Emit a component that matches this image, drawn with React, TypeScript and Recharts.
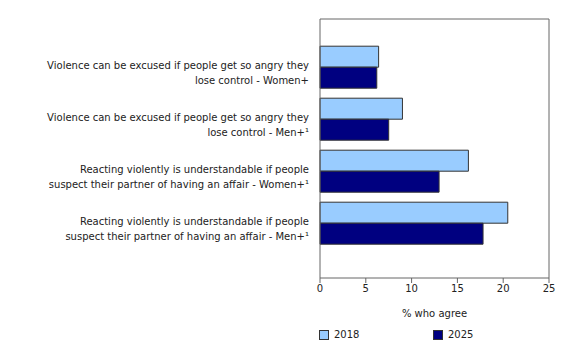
import { BarChart, Bar, XAxis, YAxis, Legend } from 'recharts';

const categories = [
  'Violence can be excused if people get so angry they\nlose control - Women+',
  'Violence can be excused if people get so angry they\nlose control - Men+¹',
  'Reacting violently is understandable if people\nsuspect their partner of having an affair - Women+¹',
  'Reacting violently is understandable if people\nsuspect their partner of having an affair - Men+¹',
];
const values2018 = [6.4, 9.0, 16.2, 20.5];
const values2025 = [6.2, 7.5, 13.0, 17.8];
const xTicks = [0, 5, 10, 15, 20, 25];

const data = categories.map((name, i) => ({
  name,
  y2018: values2018[i],
  y2025: values2025[i],
}));

const FONT = '"DejaVu Sans", Verdana, sans-serif';
const FRAME = '#666';

function CategoryTick({ x, y, payload }: any) {
  const lines = String(payload.value).split('\n');
  return (
    <text x={x - 3} y={y} textAnchor="end" fontSize={10} fontFamily={FONT} fill="#222">
      {lines.map((line, i) => (
        <tspan key={i} x={x - 3} y={y + 2 + i * 15}>
          {line}
        </tspan>
      ))}
    </text>
  );
}

function LegendContent() {
  const items = [
    { label: '2018', color: '#99CCFF' },
    { label: '2025', color: '#000080' },
  ];
  return (
    <div style={{ display: 'flex', fontFamily: FONT, fontSize: 10, color: '#222' }}>
      {items.map((it) => (
        <div key={it.label} style={{ display: 'flex', alignItems: 'center', width: 114 }}>
          <span
            style={{
              display: 'inline-block',
              width: 8,
              height: 8,
              background: it.color,
              border: '1px solid #333',
              marginRight: 5,
            }}
          />
          {it.label}
        </div>
      ))}
    </div>
  );
}

export default function App() {
  return (
    <div style={{ position: 'absolute', left: 0, top: 0, background: '#fff' }}>
      <BarChart
        width={580}
        height={345}
        data={data}
        layout="vertical"
        margin={{ top: 18, right: 30, bottom: 9, left: 0 }}
        barCategoryGap="10%"
        barGap={0}
      >
        <XAxis
          type="number"
          domain={[0, 25]}
          ticks={xTicks}
          height={40}
          stroke={FRAME}
          tick={{ fill: '#222', fontSize: 10, fontFamily: FONT }}
          tickSize={5}
          label={{
            value: '% who agree',
            position: 'insideBottom',
            offset: 1,
            fill: '#222',
            fontSize: 10,
            fontFamily: FONT,
          }}
        />
        <XAxis xAxisId="top" type="number" domain={[0, 25]} orientation="top" height={1} tick={false} tickLine={false} stroke={FRAME} />
        <YAxis
          type="category"
          dataKey="name"
          width={320}
          stroke={FRAME}
          tickLine={false}
          tick={<CategoryTick />}
          padding={{ top: 22, bottom: 29 }}
          interval={0}
        />
        <YAxis yAxisId="right" type="category" dataKey="name" orientation="right" width={1} tick={false} tickLine={false} stroke={FRAME} />
        <Legend
          verticalAlign="bottom"
          content={<LegendContent />}
          wrapperStyle={{ position: 'absolute', top: 329, left: 319, bottom: 'auto', width: 'auto', height: 18 }}
        />
        <Bar dataKey="y2018" name="2018" fill="#99CCFF" stroke="#333" strokeWidth={1} isAnimationActive={false} />
        <Bar dataKey="y2025" name="2025" fill="#000080" stroke="#333" strokeWidth={1} isAnimationActive={false} />
      </BarChart>
    </div>
  );
}
